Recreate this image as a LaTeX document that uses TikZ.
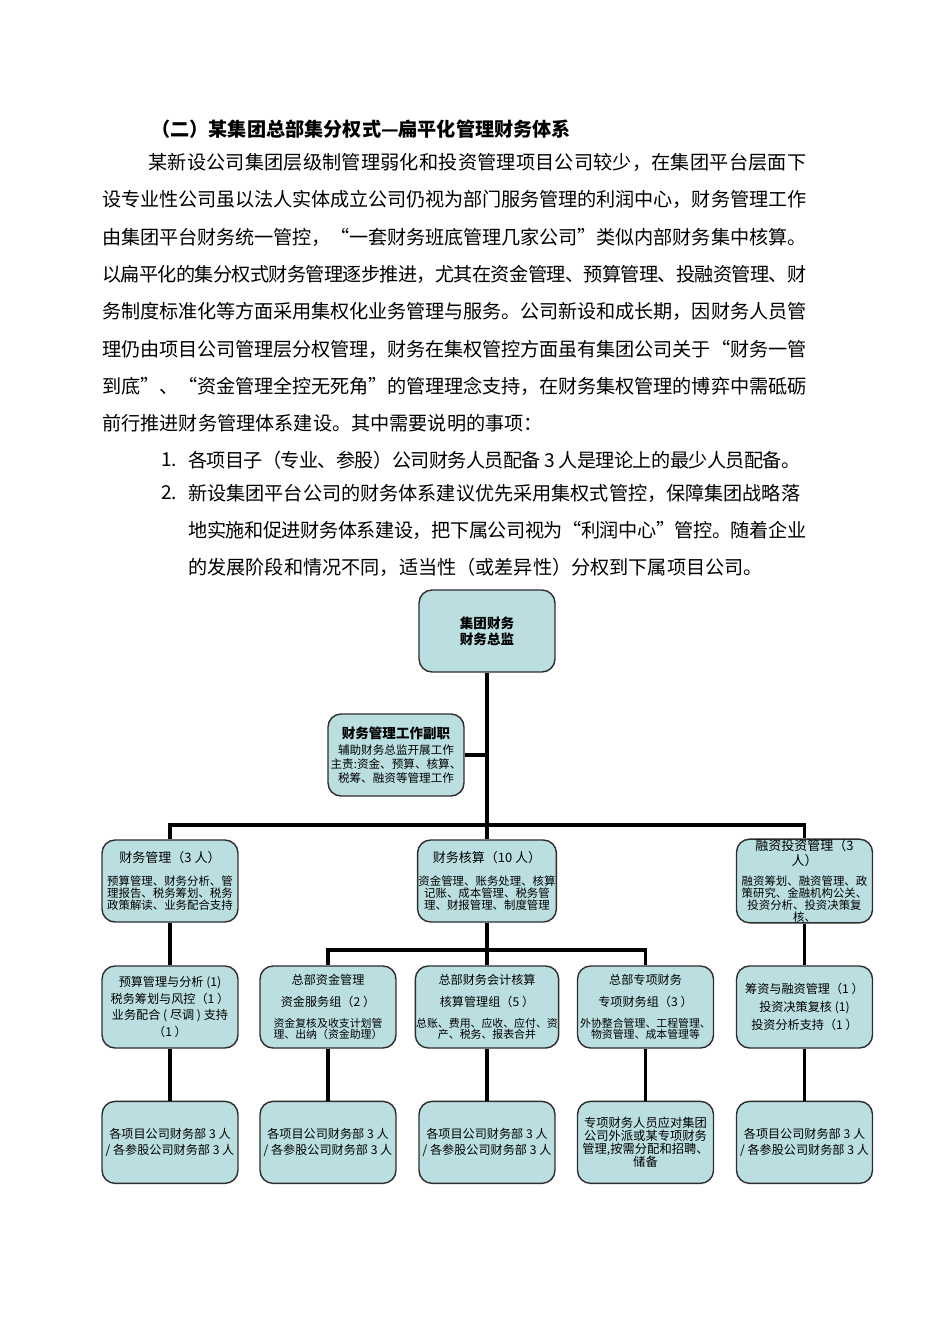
\documentclass[tikz,border=0pt]{standalone}
\usepackage{fontspec}
\setmainfont{Noto Sans CJK SC}
\usetikzlibrary{positioning}
\definecolor{boxfill}{RGB}{187,223,225}
\definecolor{boxline}{RGB}{45,45,45}
\newcommand\bodyfont{\fontsize{10.9}{13}\selectfont}
\newcommand\topfont{\fontsize{7.7}{9}\selectfont\bfseries}
\newcommand\ttlfont{\fontsize{7.4}{8.5}\selectfont}
\newcommand\detfont{\fontsize{6.5}{6.9}\selectfont}
\newcommand\midfont{\fontsize{6.9}{9.4}\selectfont}
\newcommand\tinyfont{\fontsize{6.2}{6.3}\selectfont}
% char classes and glue between CJK characters, so that a line can be set to a given width
\newcount\cjkcode
\cjkcode="4E00
\loop
  \XeTeXcharclass\cjkcode=11
  \advance\cjkcode by 1
\ifnum\cjkcode<"A000 \repeat
\XeTeXcharclass"FF08=12 \XeTeXcharclass"201C=12
\XeTeXcharclass"FF0C=13 \XeTeXcharclass"3001=13 \XeTeXcharclass"3002=13
\XeTeXcharclass"FF1A=13 \XeTeXcharclass"FF09=13 \XeTeXcharclass"201D=13
\newcommand\cjkglue{\hskip 0pt plus 1pt minus 1pt}
\XeTeXinterchartoks 11 11 {\cjkglue}
\XeTeXinterchartoks 11 12 {\cjkglue}
\XeTeXinterchartoks 11 13 {\cjkglue}
\XeTeXinterchartoks 12 11 {\cjkglue}
\XeTeXinterchartoks 13 11 {\cjkglue}
\XeTeXinterchartoks 13 12 {\cjkglue}
\XeTeXinterchartoks 13 13 {\cjkglue}
\XeTeXinterchartoks 0 11 {\cjkglue}
\XeTeXinterchartoks 11 0 {\cjkglue}
\newcommand\jline[2]{\hbox to #1{\XeTeXinterchartokenstate=1 #2}}
\tikzset{
  txtline/.style = {anchor=west, inner sep=0pt, font=\bodyfont},
  box/.style = {rectangle, draw=boxline, fill=boxfill, line width=0.8pt, rounded corners=2.6mm, minimum width=2.72cm, minimum height=1.64cm, align=center, inner sep=0.5pt},
  link/.style = {line width=1.9pt}
}

\begin{document}
\begin{tikzpicture}[x=0.02cm, y=-0.02cm]
\fill[white] (0,0) rectangle (950,1344);
\useasboundingbox (0,0) rectangle (950,1344);

% ----- TEXT -----
\node[txtline] (head) at (151,129) {\bfseries （二）某集团总部集分权式—扁平化管理财务体系};
\node[txtline] (par1) at (148,162) {\jline{13.16cm}{某新设公司集团层级制管理弱化和投资管理项目公司较少，在集团平台层面下}};
\node[txtline] (par2) at (102,199) {\jline{14.08cm}{设专业性公司虽以法人实体成立公司仍视为部门服务管理的利润中心，财务管理工作}};
\node[txtline] (par3) at (102,237) {\jline{14.08cm}{由集团平台财务统一管控，“一套财务班底管理几家公司”类似内部财务集中核算。}};
\node[txtline] (par4) at (102,274) {\jline{14.08cm}{以扁平化的集分权式财务管理逐步推进，尤其在资金管理、预算管理、投融资管理、财}};
\node[txtline] (par5) at (102,311) {\jline{14.08cm}{务制度标准化等方面采用集权化业务管理与服务。公司新设和成长期，因财务人员管}};
\node[txtline] (par6) at (102,349) {\jline{14.08cm}{理仍由项目公司管理层分权管理，财务在集权管控方面虽有集团公司关于“财务一管}};
\node[txtline] (par7) at (102,386) {\jline{14.08cm}{到底”、“资金管理全控无死角”的管理理念支持，在财务集权管理的博弈中需砥砺}};
\node[txtline] (par8) at (102,423) {前行推进财务管理体系建设。其中需要说明的事项：};
\node[txtline] (num1) at (161,460) {1.};
\node[txtline] (item1) at (188,460) {\jline{12.24cm}{各项目子（专业、参股）公司财务人员配备 3 人是理论上的最少人员配备。}};
\node[txtline] (num2) at (161,493) {2.};
\node[txtline] (item2a) at (188,493) {\jline{12.24cm}{新设集团平台公司的财务体系建议优先采用集权式管控，保障集团战略落}};
\node[txtline] (item2b) at (188,530) {\jline{12.36cm}{地实施和促进财务体系建设，把下属公司视为“利润中心”管控。随着企业}};
\node[txtline] (item2c) at (188,567) {的发展阶段和情况不同，适当性（或差异性）分权到下属项目公司。};

% ----- CHART -----
% Level 0 and deputy
\node[box, font=\topfont] (cfo) at (487,631) {集团财务\\财务总监};
\node[box, font=\tinyfont\fontsize{6.6}{8}\selectfont] (vice) at (396,755) {{\topfont 财务管理工作副职}\\[1pt]
辅助财务总监开展工作\\主责:资金、预算、核算、\\税筹、融资等管理工作};

% Level 1
\node[box, font=\detfont] (fin1) at (170,881) {{\ttlfont 财务管理（3 人）}\\[6pt]
预算管理、财务分析、管\\理报告、税务筹划、税务\\政策解读、业务配合支持};
\node[box, font=\detfont] (fin2) at (487,881) {{\ttlfont 财务核算（10 人）}\\[6pt]
资金管理、账务处理、核算\\记账、成本管理、税务管\\理、财报管理、制度管理};
\node[box, font=\detfont, inner sep=0pt] (fin3) at (804.5,881) {{\ttlfont 融资投资管理（3}\\[0.6pt]{\ttlfont 人）}\\[4.5pt]
融资筹划、融资管理、政\\策研究、金融机构公关、\\投资分析、投资决策复\\核、};

% Level 2
\node[box, font=\midfont] (grp1) at (170,1007) {预算管理与分析 (1)\\税务筹划与风控（1 ）\\业务配合 ( 尽调 ) 支持\\（1 ）};
\node[box, font=\tinyfont] (grp2) at (328,1007) {{\midfont 总部资金管理}\\[5pt]{\midfont 资金服务组（2 ）}\\[6pt]
资金复核及收支计划管\\理、出纳（资金助理）};
\node[box, font=\tinyfont] (grp3) at (487,1007) {{\midfont 总部财务会计核算}\\[5pt]{\midfont 核算管理组（5 ）}\\[6pt]
总账、费用、应收、应付、资\\产、税务、报表合并};
\node[box, font=\tinyfont] (grp4) at (645.5,1007) {{\midfont 总部专项财务}\\[5pt]{\midfont 专项财务组（3 ）}\\[6pt]
外协整合管理、工程管理、\\物资管理、成本管理等};
\node[box, font=\midfont\fontsize{6.9}{10.2}\selectfont] (grp5) at (804.5,1007) {筹资与融资管理（1 ）\\投资决策复核 (1)\\投资分析支持（1 ）};

% Level 3
\node[box, font=\midfont, below=1.04cm of grp1] (sub1) {各项目公司财务部 3 人\\/ 各参股公司财务部 3 人};
\node[box, font=\midfont, below=1.04cm of grp2] (sub2) {各项目公司财务部 3 人\\/ 各参股公司财务部 3 人};
\node[box, font=\midfont, below=1.04cm of grp3] (sub3) {各项目公司财务部 3 人\\/ 各参股公司财务部 3 人};
\node[box, font=\midfont\fontsize{7}{7.4}\selectfont, below=1.04cm of grp4] (sub4) {专项财务人员应对集团\\公司外派或某专项财务\\管理,按需分配和招聘、\\储备};
\node[box, font=\midfont, below=1.04cm of grp5] (sub5) {各项目公司财务部 3 人\\/ 各参股公司财务部 3 人};

% ----- LINKS -----
\coordinate (bus1) at (487,825);
\coordinate (bus2) at (487,950);
% trunk
\draw[link] (cfo.south) -- (fin2.north);
\draw[link] (vice.east) -- (vice.east -| cfo.south);
% to level 1
\draw[link] (fin1.north) |- (bus1) -| (fin3.north);
% to level 2
\draw[link] (fin1.south) -- (grp1.north);
\draw[link] (fin2.south) -- (grp3.north);
\draw[link] (grp2.north) |- (bus2) -| (grp4.north);
\draw[link] (fin3.south) -- (grp5.north);
% to level 3
\draw[link] (grp1.south) -- (sub1.north);
\draw[link] (grp2.south) -- (sub2.north);
\draw[link] (grp3.south) -- (sub3.north);
\draw[link] (grp4.south) -- (sub4.north);
\draw[link] (grp5.south) -- (sub5.north);

\end{tikzpicture}
\end{document}
